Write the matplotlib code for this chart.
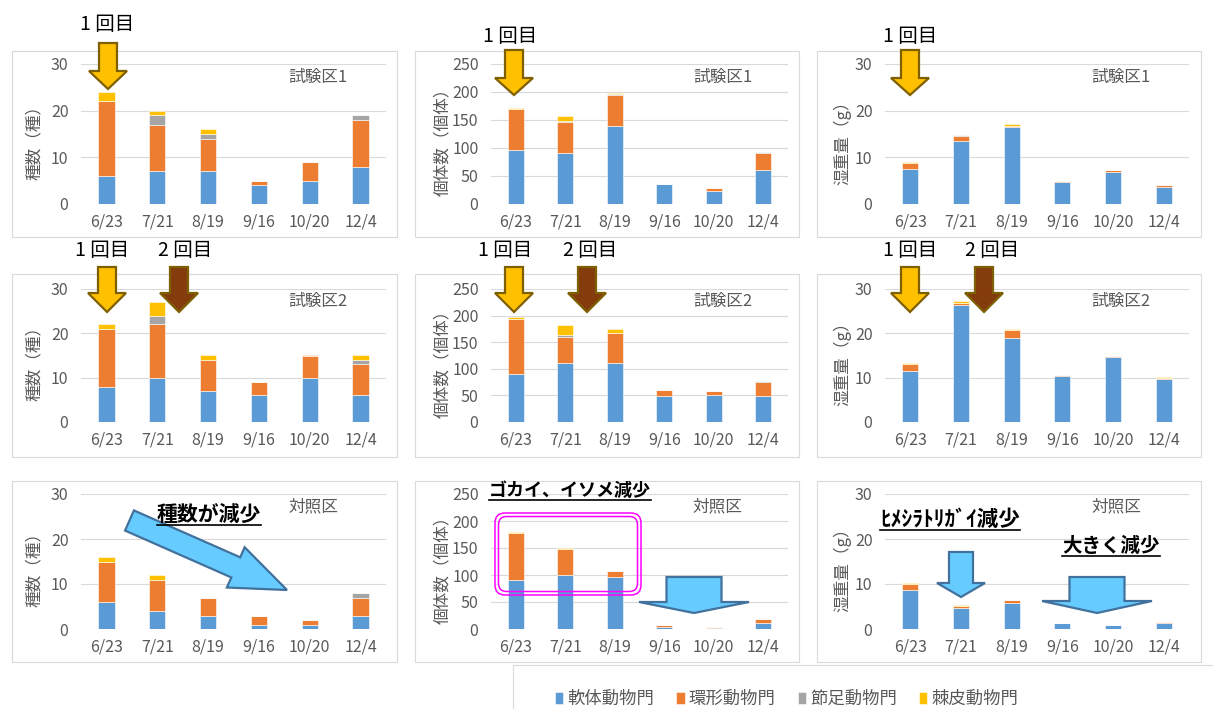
import matplotlib.pyplot as plt
import numpy as np
from matplotlib.patches import Polygon, Rectangle, FancyBboxPatch
from matplotlib.lines import Line2D
from matplotlib.transforms import Affine2D, IdentityTransform

plt.rcParams['font.family'] = ['Noto Sans CJK JP', 'DejaVu Sans']

# Data
dates = ['6/23', '7/21', '8/19', '9/16', '10/20', '12/4']
phyla = ['軟体動物門', '環形動物門', '節足動物門', '棘皮動物門']
colors = ['#5B9BD5', '#ED7D31', '#A5A5A5', '#FFC000']

# each list: [軟体, 環形, 節足, 棘皮] x dates
species_t1 = [[6, 7, 7, 4, 5, 8], [16, 10, 7, 1, 4, 10], [0, 2, 1, 0, 0, 1], [2, 1, 1, 0, 0, 0]]
count_t1 = [[97, 91, 140, 35, 23, 61], [72, 55, 55, 1.5, 6, 30], [0, 2, 2, 0, 0, 2], [3, 10, 2, 0, 0, 0]]
weight_t1 = [[7.4, 13.6, 16.4, 4.8, 6.9, 3.7], [1.4, 0.9, 0.4, 0.05, 0.4, 0.4], [0, 0.2, 0, 0, 0, 0], [0.2, 0.1, 0.4, 0, 0, 0]]

species_t2 = [[8, 10, 7, 6, 10, 6], [13, 12, 7, 3, 5, 7], [0, 2, 0, 0, 0, 1], [1, 3, 1, 0, 0, 1]]
count_t2 = [[90, 110, 110, 48, 50, 48], [103, 50, 57, 13, 9, 27], [0, 4, 1, 0, 0, 1.5], [5, 18, 6, 0, 0, 1.5]]
weight_t2 = [[11.5, 26.3, 19.0, 10.35, 14.7, 9.6], [1.5, 0.5, 1.8, 0.25, 0.25, 0.4], [0, 0, 0, 0, 0, 0], [0.2, 0.4, 0.2, 0, 0, 0.15]]

species_ctl = [[6, 4, 3, 1, 1, 3], [9, 7, 4, 2, 1, 4], [0, 0, 0, 0, 0, 1], [1, 1, 0, 0, 0, 0]]
count_ctl = [[90, 100, 96, 4, 1, 12], [88, 48, 12, 4, 2, 6], [0, 0, 0, 0, 0, 1], [1, 1.5, 0, 0, 0, 0]]
weight_ctl = [[8.6, 4.6, 5.85, 1.26, 0.9, 1.33], [1.5, 0.45, 0.55, 0, 0, 0.12], [0, 0, 0, 0, 0, 0], [0.2, 0.2, 0, 0, 0, 0]]

panels = [
    [(species_t1, 30, '種数（種）', '試験区1'), (count_t1, 250, '個体数（個体）', '試験区1'), (weight_t1, 30, '湿重量（g）', '試験区1')],
    [(species_t2, 30, '種数（種）', '試験区2'), (count_t2, 250, '個体数（個体）', '試験区2'), (weight_t2, 30, '湿重量（g）', '試験区2')],
    [(species_ctl, 30, '種数（種）', '対照区'), (count_ctl, 250, '個体数（個体）', '対照区'), (weight_ctl, 30, '湿重量（g）', '対照区')],
]

W, H = 1213, 709
fig = plt.figure(figsize=(W / 100, H / 100), dpi=100)
pix = Affine2D().scale(1 / 100, -1 / 100).translate(0, H / 100) + fig.dpi_scale_trans

gray = '#595959'
cols_x = [(81, 386), (491, 788), (885, 1189)]
rows_y = [(64, 204), (289, 422), (494, 629)]
frames_x = [(12, 397), (415, 799), (817, 1201)]
frames_y = [(51, 237), (274, 457), (481, 662)]
ylab_x = [-0.125, -0.135, -0.112]

# panel frames
for fx0, fx1 in frames_x:
    for fy0, fy1 in frames_y:
        fig.add_artist(Rectangle((fx0, fy0), fx1 - fx0, fy1 - fy0, transform=pix,
                                 fc='white', ec='#D9D9D9', lw=0.8, zorder=-5))

# legend box
fig.add_artist(Rectangle((513, 665), 720, 60, transform=pix, fc='white', ec='#D9D9D9', lw=0.8, zorder=-5))

first_ax = None
for r, row in enumerate(panels):
    for c, (data, ymax, ylabel, title) in enumerate(row):
        x0, x1 = cols_x[c]
        yt, yb = rows_y[r]
        ax = fig.add_axes([x0 / W, 1 - yb / H, (x1 - x0) / W, (yb - yt) / H])
        ax.patch.set_alpha(0)
        x = np.arange(len(dates))
        bottom = np.zeros(len(dates))
        for vals, name, col in zip(data, phyla, colors):
            ax.bar(x, vals, 0.32, bottom=bottom, color=col, label=name,
                   edgecolor='white', linewidth=0.4, zorder=2)
            bottom += np.array(vals, dtype=float)
        ax.set_xlim(-0.5, 5.5)
        ax.set_ylim(0, ymax)
        step = 10 if ymax == 30 else 50
        ax.set_yticks(np.arange(0, ymax + 1, step))
        ax.set_xticks(x)
        ax.set_xticklabels(dates)
        ax.grid(axis='y', color='#D9D9D9', lw=0.8, zorder=0)
        ax.set_axisbelow(True)
        for s in ax.spines.values():
            s.set_visible(False)
        ax.tick_params(length=0, labelsize=11.5, labelcolor=gray)
        ax.tick_params(axis='x', pad=7)
        ax.tick_params(axis='y', pad=9)
        ax.set_ylabel(ylabel, fontsize=12, color=gray)
        ax.yaxis.set_label_coords(ylab_x[c], 0.47)
        ax.text(0.68, 0.905, title, transform=ax.transAxes, fontsize=12,
                color=gray, ha='left', va='center')
        if first_ax is None:
            first_ax = ax


def down_arrow(cx, top, tip, shaft_w, head_w, head_y, fc, ec):
    pts = [(cx - shaft_w / 2, top), (cx + shaft_w / 2, top), (cx + shaft_w / 2, head_y),
           (cx + head_w / 2, head_y), (cx, tip), (cx - head_w / 2, head_y),
           (cx - shaft_w / 2, head_y)]
    fig.add_artist(Polygon(pts, closed=True, transform=pix, fc=fc, ec=ec, lw=1.6,
                           joinstyle='miter', zorder=5))


def slant_arrow(tail, tip, sh, hh, hl, fc, ec):
    tail = np.array(tail, float)
    tip = np.array(tip, float)
    d = (tip - tail) / np.linalg.norm(tip - tail)
    n = np.array([-d[1], d[0]])
    base = tip - d * hl
    pts = [tail + n * sh, base + n * sh, base + n * hh, tip, base - n * hh, base - n * sh, tail - n * sh]
    fig.add_artist(Polygon(pts, closed=True, transform=pix, fc=fc, ec=ec, lw=1.6,
                           joinstyle='miter', zorder=5))


yellow, brown, olive = '#FFC000', '#843C0C', '#7F6000'
lblue, dblue = '#66CCFF', '#41719C'

# 1回目 / 2回目 markers
marks = [
    ('1 回目', 107, 25, 108, 43, 89, 71, yellow),
    ('1 回目', 510, 36, 514, 50, 95, 78, yellow),
    ('1 回目', 910, 36, 910, 50, 95, 78, yellow),
    ('1 回目', 102, 251, 107, 267, 312, 293, yellow),
    ('2 回目', 185, 251, 179, 267, 312, 293, brown),
    ('1 回目', 505, 251, 514, 267, 312, 293, yellow),
    ('2 回目', 590, 251, 587, 267, 312, 293, brown),
    ('1 回目', 910, 251, 910, 267, 312, 293, yellow),
    ('2 回目', 992, 251, 984, 267, 312, 293, brown),
]
for s, tx, ty, cx, top, tip, hy, fc in marks:
    fig.text(tx / W, 1 - ty / H, s, fontsize=14, color='black', ha='center', va='center')
    down_arrow(cx, top, tip, 18, 38, hy, fc, olive)

# 対照区 annotations
slant_arrow((129.5, 520.5), (287, 590), 11, 22, 56, lblue, dblue)
down_arrow(694, 577, 613, 55, 110, 602, lblue, dblue)
down_arrow(961, 552, 597, 24, 48, 583, lblue, dblue)
down_arrow(1097, 577, 613, 55, 110, 601, lblue, dblue)

# magenta double frame
for inset in (0, 3.5):
    fig.add_artist(FancyBboxPatch((495 + inset, 513 + inset), 146 - 2 * inset, 82 - 2 * inset,
                                  boxstyle='round,pad=0,rounding_size=%.1f' % (10 - inset / 2),
                                  transform=pix, fc='none', ec='#FF00FF', lw=1.1, zorder=5))

notes = [
    ('種数が減少', 157, 514, 15, 525),
    ('ゴカイ、イソメ減少', 489, 490, 13, 500),
    ('ﾋﾒｼﾗﾄﾘｶﾞｲ減少', 880, 519, 15.5, 530),
    ('大きく減少', 1062, 546, 14, 556),
]
renderer = fig.canvas.get_renderer()
for s, tx, ty, size, uy in notes:
    t = fig.text(tx / W, 1 - ty / H, s, fontsize=size, fontweight='bold', color='black',
                 ha='left', va='center', zorder=6)
    bb = t.get_window_extent(renderer)
    fig.add_artist(Line2D([bb.x0, bb.x1], [H - uy, H - uy], transform=IdentityTransform(),
                          color='black', lw=1.2, zorder=6))

handles, labels = first_ax.get_legend_handles_labels()
fig.legend(handles, labels, loc='center left', bbox_to_anchor=(555 / W, 1 - 699 / H),
           ncol=4, frameon=False, fontsize=12.5, handlelength=0.48, handleheight=0.7,
           handletextpad=0.25, columnspacing=1.25, borderpad=0, borderaxespad=0,
           labelcolor=gray)

fig.savefig('out.png', dpi=100)
